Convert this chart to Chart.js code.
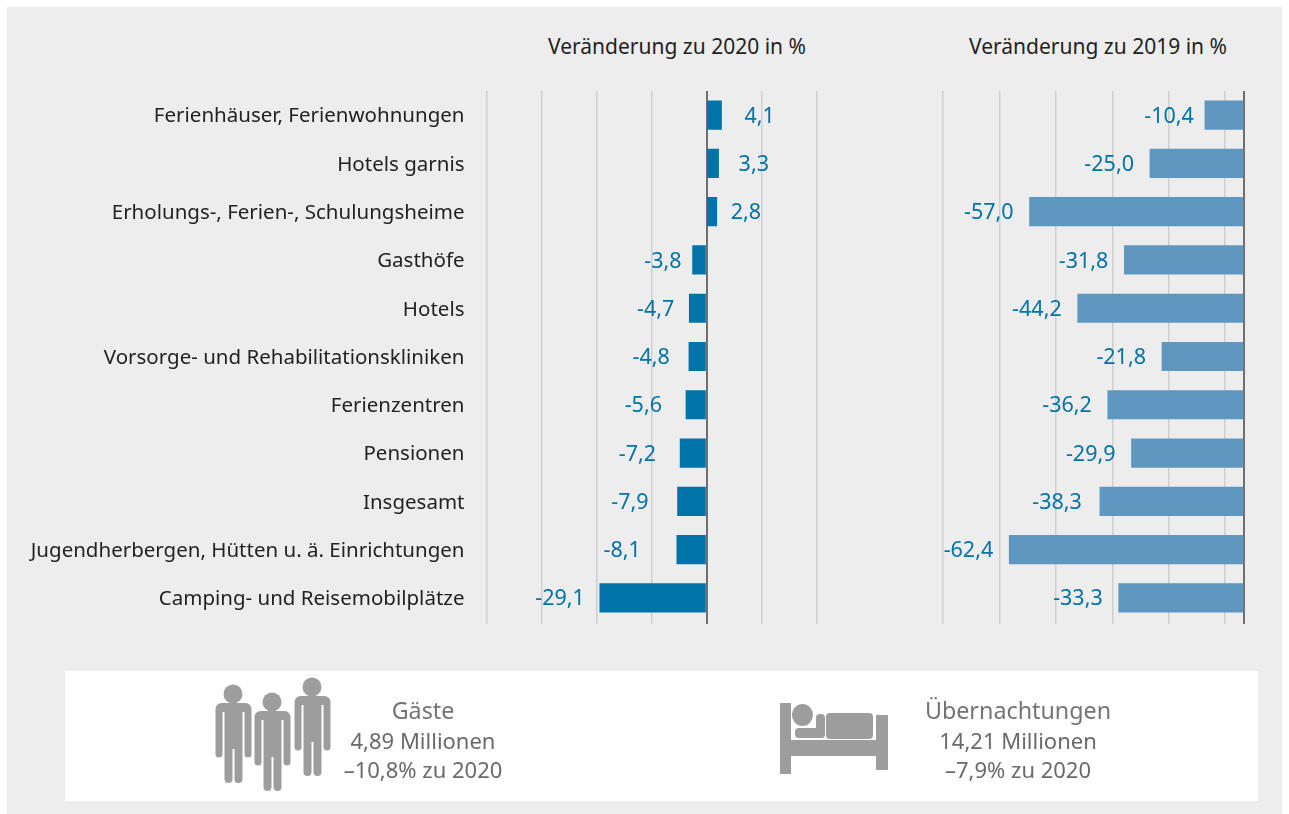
<!DOCTYPE html>
<html lang="de"><head><meta charset="utf-8">
<script src="https://cdn.jsdelivr.net/npm/chart.js@4"></script>
<style>
html,body{margin:0;padding:0;background:#fff;width:1289px;height:814px;overflow:hidden}
body{position:relative;font-family:"Noto Sans",sans-serif}
#bg{position:absolute;left:7px;top:7px;width:1275px;height:807px;background:#ededed}
canvas{position:absolute;top:0}
.head{position:absolute;top:33px;font-size:21px;line-height:26px;color:#222;white-space:nowrap;transform:translateX(-50%)}
#panel{position:absolute;left:65px;top:671px;width:1193px;height:130px;background:#fff}
.info{position:absolute;text-align:center;color:#6a6a6a;font-size:22px;line-height:29px;white-space:nowrap;transform:translateX(-50%)}
.info b{font-weight:400;font-size:23.300px;display:block;color:#747474;margin-top:-1px;margin-bottom:1px}
svg{position:absolute;left:0;top:0}
</style></head><body>
<div id="bg"></div>
<div class="head" style="left:677px">Veränderung zu 2020 in %</div>
<div class="head" style="left:1098px">Veränderung zu 2019 in %</div>
<div style="position:absolute;left:0;top:0;width:1289px;height:660px">
<canvas id="c1" width="860" height="660" style="width:860px;height:660px"></canvas>
<canvas id="c2" width="389" height="660" style="width:389px;height:660px"></canvas></div>
<div id="panel"></div>
<svg width="1289" height="814" fill="#9d9d9d">
<g id="p"><circle cx="233" cy="694" r="9.5"/><path d="M219.500 703h26a6 6 0 0 1 6 6v45a3.500 3.500 0 0 1-7 0v-42h-2v67a4 4 0 0 1-8 0v-30h-2v30a4 4 0 0 1-8 0v-67h-2v42a3.500 3.500 0 0 1-7 0v-45a6 6 0 0 1 6-6z"/></g>
<use href="#p" x="39" y="8"/><use href="#p" x="79" y="-7"/>
<path d="M780 703h11v37h85v-25h12v55h-12v-14h-85v18h-11z"/>
<ellipse cx="802.500" cy="715" rx="10.500" ry="11"/>
<rect x="795" y="728" width="30" height="10" rx="4"/><rect x="816" y="714" width="9" height="24" rx="4"/>
<rect x="826" y="713" width="47" height="26" rx="4"/>
</svg>
<div class="info" style="left:423px;top:697px"><b>Gäste</b>4,89 Millionen<br>–10,8% zu 2020</div>
<div class="info" style="left:1018px;top:697px"><b>Übernachtungen</b>14,21 Millionen<br>–7,9% zu 2020</div>
<script>
const categories=["Ferienhäuser, Ferienwohnungen","Hotels garnis","Erholungs-, Ferien-, Schulungsheime","Gasthöfe","Hotels","Vorsorge- und Rehabilitationskliniken","Ferienzentren","Pensionen","Insgesamt","Jugendherbergen, Hütten u. ä. Einrichtungen","Camping- und Reisemobilplätze"];
const change2020=[4.1,3.3,2.8,-3.8,-4.7,-4.8,-5.6,-7.2,-7.9,-8.1,-29.1];
const change2019=[-10.4,-25.0,-57.0,-31.8,-44.2,-21.8,-36.2,-29.9,-38.3,-62.4,-33.3];
const ticks2020=[-60,-45,-30,-15,0,15,30];
const ticks2019=[-80,-65,-50,-35,-20,-5,0];
const gaps2020=[23,20,14,11,15,19,24,24,29,36,15];
const gaps2019=[11,16,16,16,16,16,16,16,18,16,16];
const fmt=v=>v.toFixed(1).replace('.',',');
function valuePlugin(gaps,color){return{id:'vals',afterDatasetsDraw(ch){
  const c=ch.ctx,x=ch.scales.x,y=ch.scales.y,d=ch.data.datasets[0].data;
  c.save();c.font='21.5px "Noto Sans"';c.fillStyle=color;c.textBaseline='middle';
  d.forEach((v,i)=>{const px=x.getPixelForValue(v);
    c.textAlign=v>=0?'left':'right';
    c.fillText(fmt(v),v>=0?px+gaps[i]:px-gaps[i],y.getPixelForValue(i)+1.5);});
  c.restore();}};}
function mk(id,left,areaL,areaR,w,data,col,min,max,tk,gaps,cats){
  const cv=document.getElementById(id);cv.style.left=left+'px';
  new Chart(cv,{type:'bar',data:{labels:categories,datasets:[{data,backgroundColor:col,barThickness:28.500,borderWidth:0}]},
  plugins:[valuePlugin(gaps,'#0073a8')],
  options:{responsive:false,animation:false,devicePixelRatio:1,indexAxis:'y',
    layout:{padding:{top:91,bottom:36,left:0,right:w-areaR}},
    plugins:{legend:{display:false},tooltip:{enabled:false}},
    scales:{
      x:{min,max,position:'bottom',afterBuildTicks(s){s.ticks=tk.map(value=>({value}));},
        ticks:{display:false},border:{display:false},
        grid:{drawTicks:true,tickLength:2,lineWidth:c=>c.tick&&c.tick.value===0?2:1.5,color:c=>c.tick&&c.tick.value===0?'#6f6f6f':'#cfcfcf'}},
      y:{position:'left',afterFit(s){s.width=areaL;},border:{display:false},grid:{display:false,drawTicks:false},
        ticks:{display:cats,color:'#222',font:{family:'"Noto Sans"',size:20.500},padding:22,autoSkip:false,labelOffset:1.5}}
    }}});
}
mk('c1',0,486.500,816.500,860,change2020,'#0073a8',-60,30,ticks2020,gaps2020,true);
mk('c2',899,44,345,389,change2019,'#5e98c1',-80,0,ticks2019,gaps2019,false);
</script>
</body></html>
